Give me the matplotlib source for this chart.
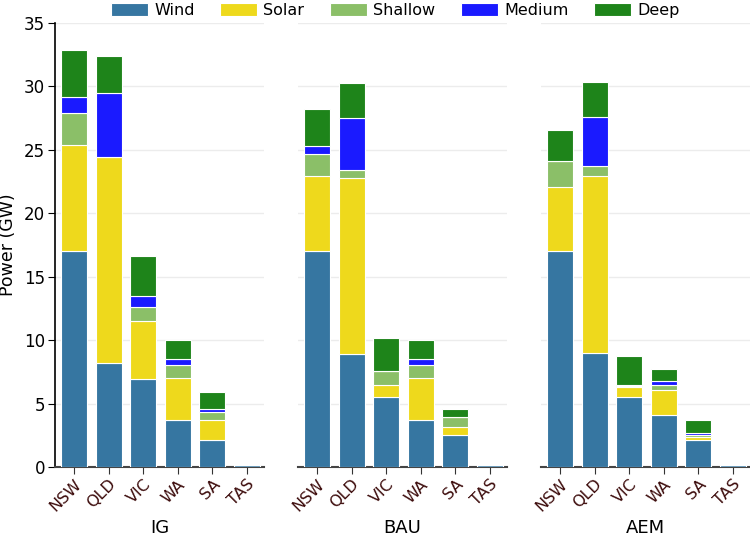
import matplotlib
matplotlib.use("Agg")
import matplotlib.pyplot as plt
import numpy as np

regions = ["NSW", "QLD", "VIC", "WA", "SA", "TAS"]
scenarios = ["IG", "BAU", "AEM"]
techs = ["Wind", "Solar", "Shallow", "Medium", "Deep"]
colors = ["#3676a1", "#eed91c", "#8bbf68", "#1a1aff", "#1e841a"]

# GW by scenario, one list per technology (order of regions)
ig_wind = [17.0, 8.2, 6.9, 3.7, 2.1, 0.15]
ig_solar = [8.4, 16.2, 4.6, 3.3, 1.6, 0.0]
ig_shallow = [2.5, 0.0, 1.15, 1.05, 0.6, 0.0]
ig_medium = [1.3, 5.1, 0.8, 0.45, 0.3, 0.0]
ig_deep = [3.7, 2.9, 3.2, 1.5, 1.35, 0.0]

bau_wind = [17.0, 8.9, 5.5, 3.7, 2.5, 0.15]
bau_solar = [5.9, 13.9, 1.0, 3.3, 0.65, 0.0]
bau_shallow = [1.8, 0.65, 1.1, 1.05, 0.8, 0.0]
bau_medium = [0.6, 4.1, 0.0, 0.5, 0.0, 0.0]
bau_deep = [2.9, 2.75, 2.6, 1.5, 0.6, 0.0]

aem_wind = [17.0, 9.0, 5.5, 4.1, 2.1, 0.15]
aem_solar = [5.05, 13.95, 0.8, 2.0, 0.3, 0.0]
aem_shallow = [2.05, 0.8, 0.1, 0.35, 0.1, 0.0]
aem_medium = [0.0, 3.85, 0.1, 0.3, 0.15, 0.0]
aem_deep = [2.5, 2.75, 2.25, 0.95, 1.05, 0.0]

data = {
    "IG": [ig_wind, ig_solar, ig_shallow, ig_medium, ig_deep],
    "BAU": [bau_wind, bau_solar, bau_shallow, bau_medium, bau_deep],
    "AEM": [aem_wind, aem_solar, aem_shallow, aem_medium, aem_deep],
}

plt.rcParams['font.family'] = ['DejaVu Sans']

fig = plt.figure(figsize=(7.5, 5.36), dpi=100)
lefts = [55/750, 298/750, 541/750]
axes = []
for i, sc in enumerate(scenarios):
    ax = fig.add_axes([lefts[i], 1 - 467/536, 209/750, 444/536])
    axes.append(ax)
    x = np.arange(len(regions))
    bottom = np.zeros(len(regions))
    for j, t in enumerate(techs):
        vals = np.array(data[sc][j])
        ax.bar(x, vals, 0.75, bottom=bottom, color=colors[j],
               edgecolor="white", linewidth=0.8, label=t, zorder=3)
        bottom += vals
    ax.set_ylim(0, 35)
    ax.set_xlim(-0.55, 5.5)
    ax.set_yticks(range(0, 36, 5))
    ax.grid(axis="y", color="#ececec", linewidth=1, zorder=0)
    ax.set_xticks(x)
    ax.set_xticklabels(regions, rotation=45, ha="right", rotation_mode="anchor",
                       color="#3d0c0c", fontsize=11.5)
    ax.tick_params(axis="x", length=5, color="#333333", pad=2)
    ax.set_xlabel(sc, fontsize=13)
    ax.xaxis.set_label_coords(0.5, -0.117)
    for s in ["top", "right"]:
        ax.spines[s].set_visible(False)
    ax.spines["bottom"].set_color("#444444")
    ax.spines["bottom"].set_linewidth(1.5)
    if i == 0:
        ax.set_ylabel("Power (GW)", fontsize=12.5)
        ax.yaxis.set_label_coords(-0.18, 0.5)
        ax.tick_params(axis="y", labelsize=12, length=5, pad=2)
        ax.spines["left"].set_linewidth(1.2)
    else:
        ax.spines["left"].set_visible(False)
        ax.tick_params(axis="y", left=False, labelleft=False)

handles, labels = axes[0].get_legend_handles_labels()
fig.legend(handles, labels, loc="upper center", bbox_to_anchor=(0.527, 1.022),
           ncol=5, frameon=False, fontsize=11.5, handlelength=2.3,
           handleheight=0.9, columnspacing=1.6, handletextpad=0.4)

fig.savefig("out.png", dpi=100)
